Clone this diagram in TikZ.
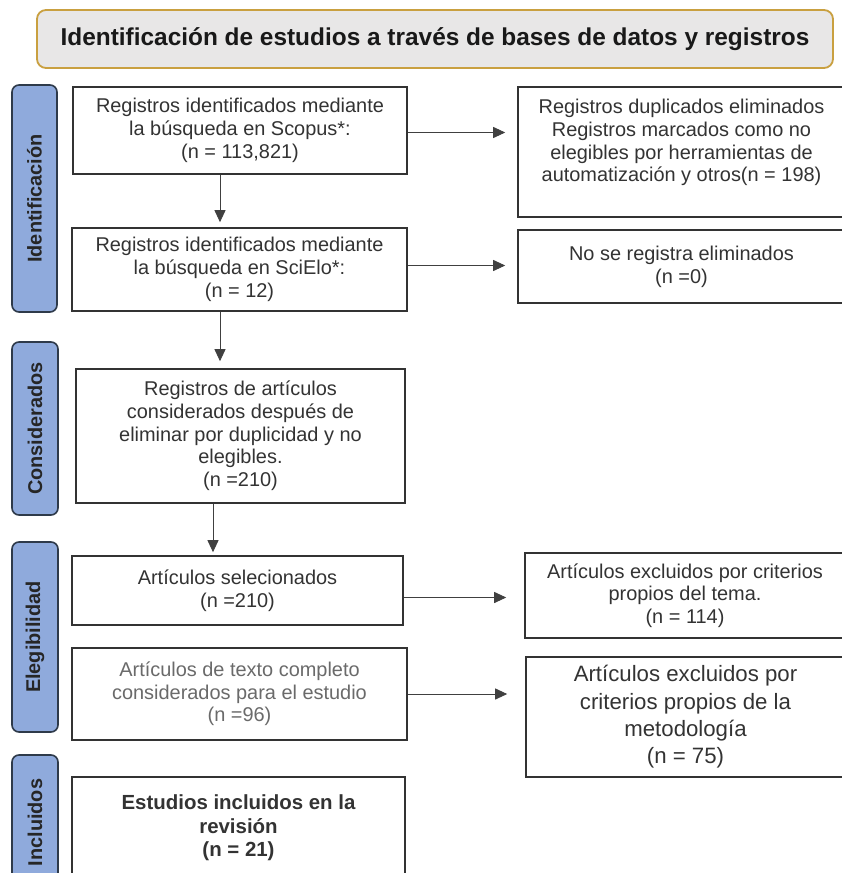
\documentclass[tikz,border=0pt]{standalone}
\usepackage{fontspec}
\setmainfont{Liberation Sans}
\usepackage{xcolor}
\usetikzlibrary{arrows.meta}

\definecolor{labelblue}{HTML}{8FAADC}
\definecolor{labeledge}{HTML}{2E3A4A}
\definecolor{headfill}{HTML}{E8E7E7}
\definecolor{headedge}{HTML}{C9A040}
\definecolor{txtgray}{HTML}{333333}
\definecolor{lightgray}{HTML}{6A6A6A}

\begin{document}
\begin{tikzpicture}[x=1bp,y=-1bp,
  box/.style={draw=black!80,line width=1.6bp,fill=white,align=center,
    text=txtgray,inner sep=0pt,font=\fontsize{20}{22.8}\selectfont},
  side/.style={draw=labeledge,line width=1.6bp,fill=labelblue,
    rounded corners=7bp,rotate=90,inner sep=0pt,text=black!85,
    font=\bfseries\fontsize{20}{23}\selectfont},
  head/.style={draw=headedge,line width=1.8bp,fill=headfill,
    rounded corners=9bp,inner sep=0pt,text=black!90,
    font=\bfseries\fontsize{24.5}{28}\selectfont},
  arr/.style={draw=black!75,line width=0.9bp,
    -{Triangle[length=12bp,width=11bp]}}]
\clip (0,0) rectangle (842,873);

% title
\node[head,minimum width=796bp,minimum height=58bp] (head) at (435,39)
  {Identificación de estudios a través de bases de datos y registros};

% phases
\node[side,minimum width=227bp,minimum height=45bp] (ident) at (34.5,198.5) {Identificación};
\node[side,minimum width=173bp,minimum height=46bp] (consid) at (35,428.5) {Considerados};
\node[side,minimum width=190bp,minimum height=46bp] (elegib) at (35,637) {Elegibilidad};
\node[side,minimum width=135bp,minimum height=46bp] (inclu) at (35,822.5) {Incluidos};

% left column
\node[box,minimum width=334bp,minimum height=87bp] (scopus) at (240,130.5)
  {Registros identificados mediante\\la búsqueda en Scopus*:\\(n = 113,821)};
\node[box,minimum width=335bp,minimum height=83bp] (scielo) at (239.5,269.5)
  {Registros identificados mediante\\la búsqueda en SciElo*:\\(n = 12)};
\node[box,minimum width=329bp,minimum height=134bp] (cons) at (240.5,436)
  {Registros de artículos\\considerados después de\\eliminar por duplicidad y no\\elegibles.\\(n =210)};
\node[box,minimum width=331bp,minimum height=69bp] (selec) at (237.5,590.5)
  {Artículos selecionados\\(n =210)};
\node[box,minimum width=335bp,minimum height=92bp,text=lightgray] (texto) at (239.5,694)
  {Artículos de texto completo\\considerados para el estudio\\(n =96)};
\node[box,minimum width=333bp,minimum height=102bp,font=\bfseries\fontsize{20.5}{23.5}\selectfont] (final) at (238.5,828)
  {Estudios incluidos en la\\revisión\\(n = 21)};

% right column
\node[box,minimum width=327bp,minimum height=130bp] (dupl) at (681.5,152)
  {Registros duplicados eliminados\\Registros marcados como no\\elegibles por herramientas de\\automatización y otros(n = 198)\\\mbox{}};
\node[box,minimum width=327bp,minimum height=73bp] (noelim) at (681.5,266.5)
  {No se registra eliminados\\(n =0)};
\node[box,minimum width=320bp,minimum height=85bp] (tema) at (685,595.5)
  {Artículos excluidos por criterios\\propios del tema.\\(n = 114)};
\node[box,minimum width=319bp,minimum height=120bp,font=\fontsize{22.3}{27.5}\selectfont] (metod) at (685.5,717)
  {Artículos excluidos por\\criterios propios de la\\metodología\\(n = 75)};

% connectors
\coordinate (ax) at (220,0);
\coordinate (bx) at (213,0);
\draw[arr,shorten >=5bp] (scopus.south -| ax) -- (scielo.north -| ax);
\draw[arr,shorten >=7bp] (scielo.south -| ax) -- (cons.north -| ax);
\draw[arr,shorten >=3bp] (cons.south -| bx) -- (selec.north -| bx);

\draw[arr,shorten >=12bp] ([yshift=-2bp]scopus.east) -- ([yshift=-2bp]scopus.east -| dupl.west);
\draw[arr,shorten >=12bp] ([yshift=4bp]scielo.east) -- ([yshift=4bp]scielo.east -| noelim.west);
\draw[arr,shorten >=18bp] ([yshift=-7bp]selec.east) -- ([yshift=-7bp]selec.east -| tema.west);
\draw[arr,shorten >=18bp] (texto.east) -- (texto.east -| metod.west);
\end{tikzpicture}
\end{document}
